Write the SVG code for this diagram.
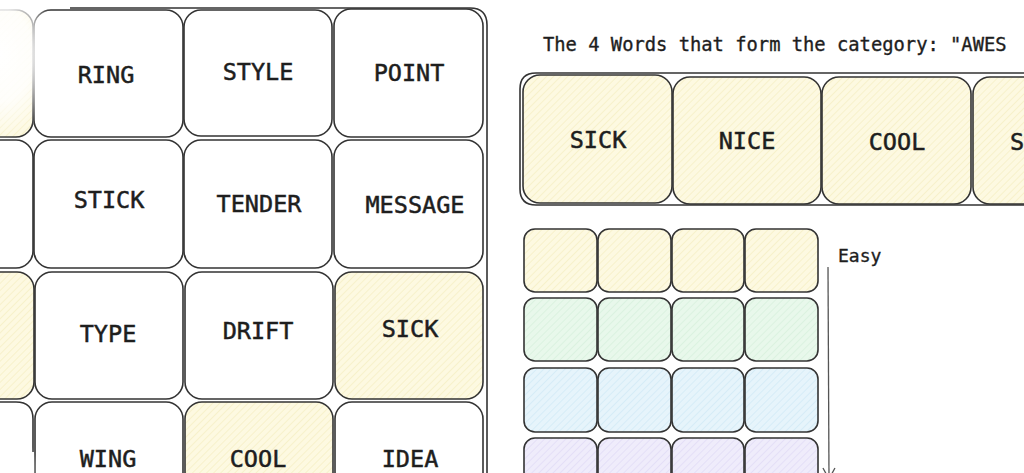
<svg xmlns="http://www.w3.org/2000/svg" width="1024" height="473" viewBox="0 0 1024 473">
<style>
.c{stroke:#333333;stroke-width:1.6;fill:#ffffff}
.y{fill:url(#hY)}
.g{fill:url(#hG)}
.b{fill:url(#hB)}
.p{fill:url(#hP)}
.t{font-family:"DejaVu Sans Mono","Liberation Mono",monospace;font-size:23.5px;fill:#1e1e1e;stroke:#1e1e1e;stroke-width:0.5;text-anchor:middle}
.s{font-family:"DejaVu Sans Mono","Liberation Mono",monospace;font-size:18.8px;fill:#1e1e1e;stroke:#1e1e1e;stroke-width:0.35}
.fr{fill:none;stroke:#333333;stroke-width:1.6}
</style>
<defs>
<pattern id="hY" width="5" height="5" patternUnits="userSpaceOnUse" patternTransform="rotate(45)"><rect width="5" height="5" fill="#fdf9e1"/><line x1="0" y1="0" x2="0" y2="5" stroke="#f4ecbc" stroke-width="1.2"/></pattern>
<pattern id="hG" width="5" height="5" patternUnits="userSpaceOnUse" patternTransform="rotate(45)"><rect width="5" height="5" fill="#e8f8eb"/><line x1="0" y1="0" x2="0" y2="5" stroke="#d2efd9" stroke-width="1.2"/></pattern>
<pattern id="hB" width="5" height="5" patternUnits="userSpaceOnUse" patternTransform="rotate(45)"><rect width="5" height="5" fill="#e6f4fb"/><line x1="0" y1="0" x2="0" y2="5" stroke="#cce7f5" stroke-width="1.2"/></pattern>
<pattern id="hP" width="5" height="5" patternUnits="userSpaceOnUse" patternTransform="rotate(45)"><rect width="5" height="5" fill="#efecfb"/><line x1="0" y1="0" x2="0" y2="5" stroke="#ddd6f5" stroke-width="1.2"/></pattern>
<radialGradient id="fade" cx="0.5" cy="0.5" r="0.5">
<stop offset="0" stop-color="#ffffff" stop-opacity="1"/>
<stop offset="0.55" stop-color="#ffffff" stop-opacity="0.85"/>
<stop offset="1" stop-color="#ffffff" stop-opacity="0"/>
</radialGradient>
<marker id="ah" markerWidth="14" markerHeight="14" refX="12" refY="7" orient="auto" markerUnits="userSpaceOnUse"><path d="M1 1 L12 7 L1 13" fill="none" stroke="#555" stroke-width="1.3"/></marker>
</defs>
<rect width="1024" height="473" fill="#ffffff"/>

<g id="board-frame">
<path class="fr" d="M70 8 L470 8 Q487 8 487 25 L487 480"/>
</g>

<g id="left-col">
<rect class="c y" x="-40" y="10" width="73" height="127" rx="17"/>
<rect class="c" x="-40" y="140" width="73" height="128" rx="17"/>
<rect class="c y" x="-40" y="272" width="74" height="127" rx="17"/>
<path class="c" d="M-10 402 L16 402 Q33 402 33 419 L33 452" fill="none"/>
</g>

<g id="n-ring"><rect class="c" x="34" y="10" width="149" height="127" rx="17"/><text class="t" x="106" y="83">RING</text></g>
<g id="n-style"><rect class="c" x="184" y="10" width="148" height="126" rx="17"/><text class="t" x="258" y="80">STYLE</text></g>
<g id="n-point"><rect class="c" x="334" y="9" width="149" height="128" rx="17"/><text class="t" x="409" y="81">POINT</text></g>

<g id="n-stick"><rect class="c" x="34" y="140" width="149" height="128" rx="17"/><text class="t" x="109" y="208">STICK</text></g>
<g id="n-tender"><rect class="c" x="184" y="140" width="148" height="128" rx="17"/><text class="t" x="259" y="212">TENDER</text></g>
<g id="n-message"><rect class="c" x="334" y="140" width="149" height="128" rx="17"/><text class="t" x="415" y="213">MESSAGE</text></g>

<g id="n-type"><rect class="c" x="35" y="272" width="148" height="127" rx="17"/><text class="t" x="108" y="342">TYPE</text></g>
<g id="n-drift"><rect class="c" x="185" y="272" width="148" height="127" rx="17"/><text class="t" x="258" y="339">DRIFT</text></g>
<g id="n-sick"><rect class="c y" x="335" y="272" width="148" height="127" rx="17"/><text class="t" x="410" y="337">SICK</text></g>

<g id="n-wing"><rect class="c" x="35" y="402" width="148" height="100" rx="17"/><text class="t" x="108" y="467">WING</text></g>
<g id="n-cool"><rect class="c y" x="185" y="402" width="148" height="100" rx="17"/><text class="t" x="258" y="467">COOL</text></g>
<g id="n-idea"><rect class="c" x="335" y="402" width="148" height="100" rx="17"/><text class="t" x="410" y="467">IDEA</text></g>

<ellipse cx="0" cy="55" rx="60" ry="85" fill="url(#fade)"/>
<ellipse cx="8" cy="470" rx="30" ry="40" fill="url(#fade)"/>

<g id="title"><text class="s" x="543" y="51">The 4 Words that form the category: "AWES</text></g>
<g id="category-frame"><path class="fr" d="M1030 73 L536 73 Q520 73 520 89 L520 189 Q520 205 536 205 L1030 205"/></g>
<g id="c-sick"><rect class="c y" x="523" y="75" width="149" height="128" rx="17"/><text class="t" x="598" y="148">SICK</text></g>
<g id="c-nice"><rect class="c y" x="673" y="77" width="148" height="127" rx="17"/><text class="t" x="747" y="149">NICE</text></g>
<g id="c-cool"><rect class="c y" x="822" y="77" width="149" height="127" rx="17"/><text class="t" x="897" y="150">COOL</text></g>
<g id="c-s"><rect class="c y" x="973" y="77" width="149" height="127" rx="17"/><text class="t" x="1010" y="150" style="text-anchor:start">S</text></g>

<g id="row-yellow">
<rect class="c y" x="524" y="229" width="73" height="63" rx="11"/>
<rect class="c y" x="598" y="229" width="73" height="63" rx="11"/>
<rect class="c y" x="672" y="229" width="72" height="63" rx="11"/>
<rect class="c y" x="745" y="229" width="73" height="63" rx="11"/>
</g>
<g id="row-green">
<rect class="c g" x="524" y="298" width="73" height="63" rx="11"/>
<rect class="c g" x="598" y="298" width="73" height="63" rx="11"/>
<rect class="c g" x="672" y="298" width="72" height="63" rx="11"/>
<rect class="c g" x="745" y="298" width="73" height="63" rx="11"/>
</g>
<g id="row-blue">
<rect class="c b" x="524" y="368" width="73" height="64" rx="11"/>
<rect class="c b" x="598" y="368" width="73" height="64" rx="11"/>
<rect class="c b" x="672" y="368" width="72" height="64" rx="11"/>
<rect class="c b" x="745" y="368" width="73" height="64" rx="11"/>
</g>
<g id="row-purple">
<rect class="c p" x="524" y="438" width="73" height="64" rx="11"/>
<rect class="c p" x="598" y="438" width="73" height="64" rx="11"/>
<rect class="c p" x="672" y="438" width="72" height="64" rx="11"/>
<rect class="c p" x="745" y="438" width="73" height="64" rx="11"/>
</g>
<g id="easy-label"><text class="s" x="838" y="262" style="font-size:18px">Easy</text></g>

<g id="connectors">
<line x1="828" y1="267" x2="829" y2="479" stroke="#555" stroke-width="1.3" marker-end="url(#ah)"/>
</g>
</svg>
